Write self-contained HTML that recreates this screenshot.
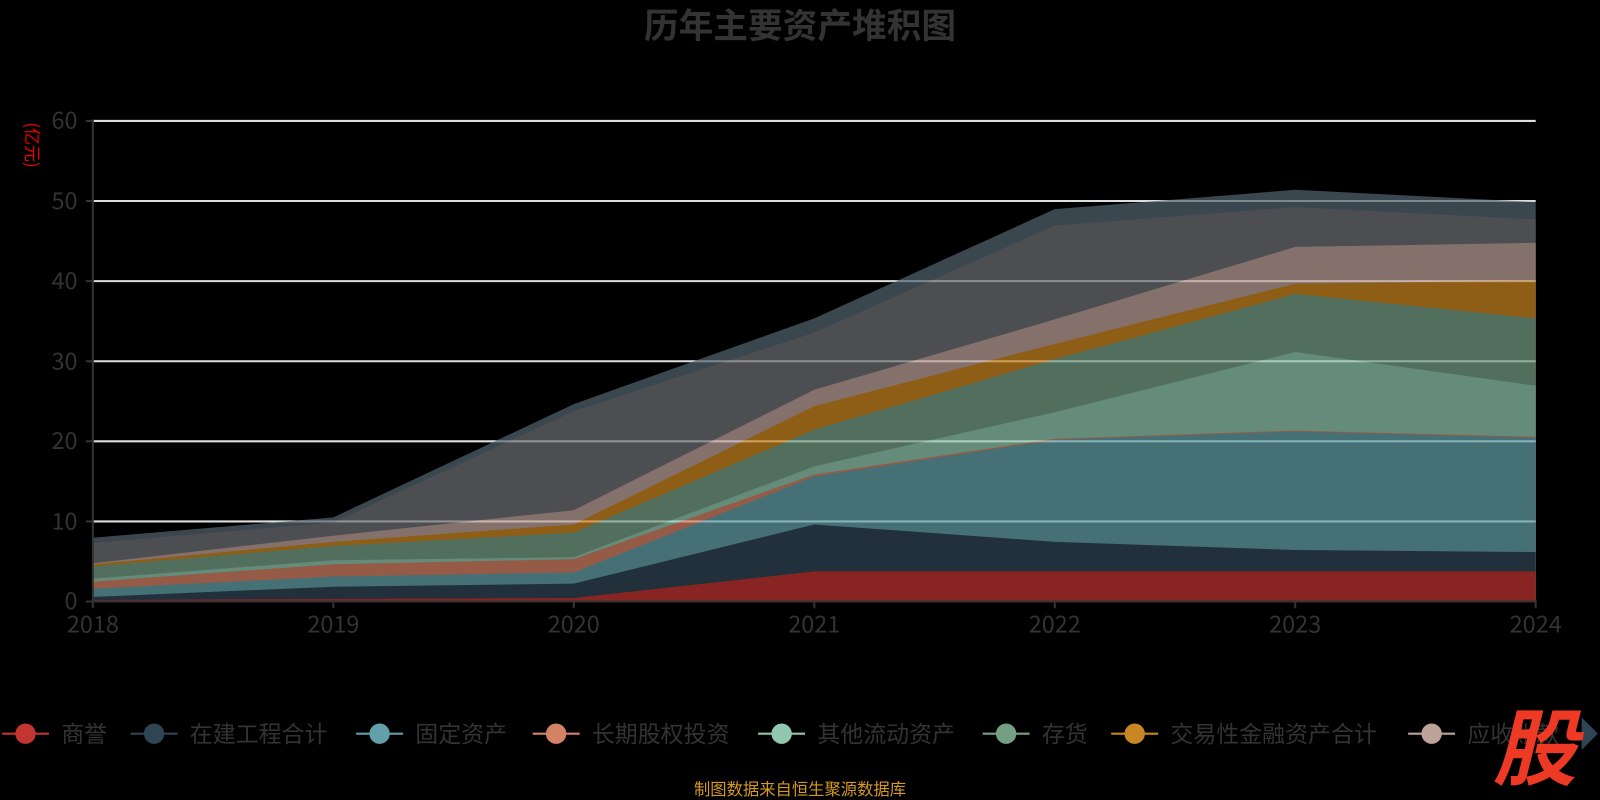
<!DOCTYPE html>
<html><head><meta charset="utf-8"><style>
html,body{margin:0;padding:0;background:#000;}
svg{display:block;}
text{font-family:"Noto Sans CJK SC","Liberation Sans",sans-serif;}
</style></head><body>
<svg width="1600" height="800" viewBox="0 0 1600 800" xmlns="http://www.w3.org/2000/svg">
<rect width="1600" height="800" fill="#000"/>
<text transform="translate(26,145) rotate(90)" text-anchor="middle" font-size="17" fill="#e00">(亿元)</text>
<g transform="scale(1.0204)">
<text x="784" y="37" text-anchor="middle" font-size="34" font-weight="bold" fill="#333">历年主要资产堆积图</text>
<g stroke="#ddd" stroke-width="2">
<line x1="91" y1="118.5" x2="1505" y2="118.5"/>
<line x1="91" y1="197" x2="1505" y2="197"/>
<line x1="91" y1="275.5" x2="1505" y2="275.5"/>
<line x1="91" y1="354" x2="1505" y2="354"/>
<line x1="91" y1="432.5" x2="1505" y2="432.5"/>
<line x1="91" y1="511" x2="1505" y2="511"/>
</g>
<g opacity="0.7">
<polygon fill="#546570" points="91,527 326.7,507 562.3,396 798,312 1033.7,205 1269.3,186 1505,198 1505,589 91,589"/>
<polygon fill="#6e7074" points="91,532 326.7,512 562.3,403 798,326 1033.7,221 1269.3,203 1505,215 1505,589 91,589"/>
<polygon fill="#bda29a" points="91,552 326.7,525 562.3,500 798,382 1033.7,313 1269.3,242 1505,238 1505,589 91,589"/>
<polygon fill="#ca8622" points="91,553 326.7,531 562.3,514 798,398 1033.7,337 1269.3,278 1505,275 1505,589 91,589"/>
<polygon fill="#749f83" points="91,555 326.7,535 562.3,522 798,421 1033.7,352 1269.3,288 1505,312 1505,589 91,589"/>
<polygon fill="#91c7ae" points="91,567 326.7,549 562.3,546 798,457 1033.7,404 1269.3,345 1505,378 1505,589 91,589"/>
<polygon fill="#d48265" points="91,570 326.7,553 562.3,548 798,465 1033.7,430 1269.3,422 1505,428 1505,589 91,589"/>
<polygon fill="#61a0a8" points="91,577 326.7,565 562.3,561 798,467 1033.7,431 1269.3,423 1505,429 1505,589 91,589"/>
<polygon fill="#2f4554" points="91,585 326.7,575 562.3,572 798,514 1033.7,531 1269.3,539 1505,541 1505,589 91,589"/>
<polygon fill="#c23531" points="91,588 326.7,587 562.3,586 798,560 1033.7,560 1269.3,560 1505,560 1505,589 91,589"/>
</g>
<g stroke="#333" stroke-width="2">
<line x1="91" y1="117" x2="91" y2="590"/>
<line x1="90" y1="589.5" x2="1506" y2="589.5"/>
<line x1="84" y1="118.5" x2="91" y2="118.5"/><line x1="84" y1="197" x2="91" y2="197"/>
<line x1="84" y1="275.5" x2="91" y2="275.5"/><line x1="84" y1="354" x2="91" y2="354"/>
<line x1="84" y1="432.5" x2="91" y2="432.5"/><line x1="84" y1="511" x2="91" y2="511"/>
<line x1="84" y1="589.5" x2="91" y2="589.5"/>
<line x1="91" y1="589" x2="91" y2="596"/><line x1="326.7" y1="589" x2="326.7" y2="596"/>
<line x1="562.3" y1="589" x2="562.3" y2="596"/><line x1="798" y1="589" x2="798" y2="596"/>
<line x1="1033.7" y1="589" x2="1033.7" y2="596"/><line x1="1269.3" y1="589" x2="1269.3" y2="596"/>
<line x1="1505" y1="589" x2="1505" y2="596"/>
</g>
<g font-size="23" fill="#333" text-anchor="end">
<text x="76" y="126">60</text><text x="76" y="205">50</text><text x="76" y="283">40</text>
<text x="76" y="362">30</text><text x="76" y="440">20</text><text x="76" y="519">10</text><text x="76" y="597">0</text>
</g>
<g font-size="23" fill="#333" text-anchor="middle">
<text x="91" y="620">2018</text><text x="326.7" y="620">2019</text><text x="562.3" y="620">2020</text>
<text x="798" y="620">2021</text><text x="1033.7" y="620">2022</text><text x="1269.3" y="620">2023</text><text x="1505" y="620">2024</text>
</g>
<g font-size="22.5" fill="#333" stroke-width="2">
<line x1="2" y1="719" x2="48" y2="719" stroke="#c23531"/><circle cx="25" cy="719" r="10" fill="#c23531"/><text x="60" y="727">商誉</text>
<line x1="128" y1="719" x2="174" y2="719" stroke="#2f4554"/><circle cx="151" cy="719" r="10" fill="#2f4554"/><text x="186" y="727">在建工程合计</text>
<line x1="349" y1="719" x2="395" y2="719" stroke="#61a0a8"/><circle cx="372" cy="719" r="10" fill="#61a0a8"/><text x="407" y="727">固定资产</text>
<line x1="522" y1="719" x2="568" y2="719" stroke="#d48265"/><circle cx="545" cy="719" r="10" fill="#d48265"/><text x="580" y="727">长期股权投资</text>
<line x1="743" y1="719" x2="789" y2="719" stroke="#91c7ae"/><circle cx="766" cy="719" r="10" fill="#91c7ae"/><text x="801" y="727">其他流动资产</text>
<line x1="963" y1="719" x2="1009" y2="719" stroke="#749f83"/><circle cx="986" cy="719" r="10" fill="#749f83"/><text x="1021" y="727">存货</text>
<line x1="1089" y1="719" x2="1135" y2="719" stroke="#ca8622"/><circle cx="1112" cy="719" r="10" fill="#ca8622"/><text x="1147" y="727">交易性金融资产合计</text>
<line x1="1380" y1="719" x2="1426" y2="719" stroke="#bda29a"/><circle cx="1403" cy="719" r="10" fill="#bda29a"/><text x="1438" y="727">应收账款</text>
</g>
<polygon points="1550,703 1550,735 1566,719" fill="#2f4554"/>
<text x="1504" y="763" text-anchor="middle" font-size="82" font-weight="bold" font-style="italic" fill="#ee3a24">股</text>
<text x="784" y="779" text-anchor="middle" font-size="16" fill="#d49a20">制图数据来自恒生聚源数据库</text>
</g>
</svg>
</body></html>
